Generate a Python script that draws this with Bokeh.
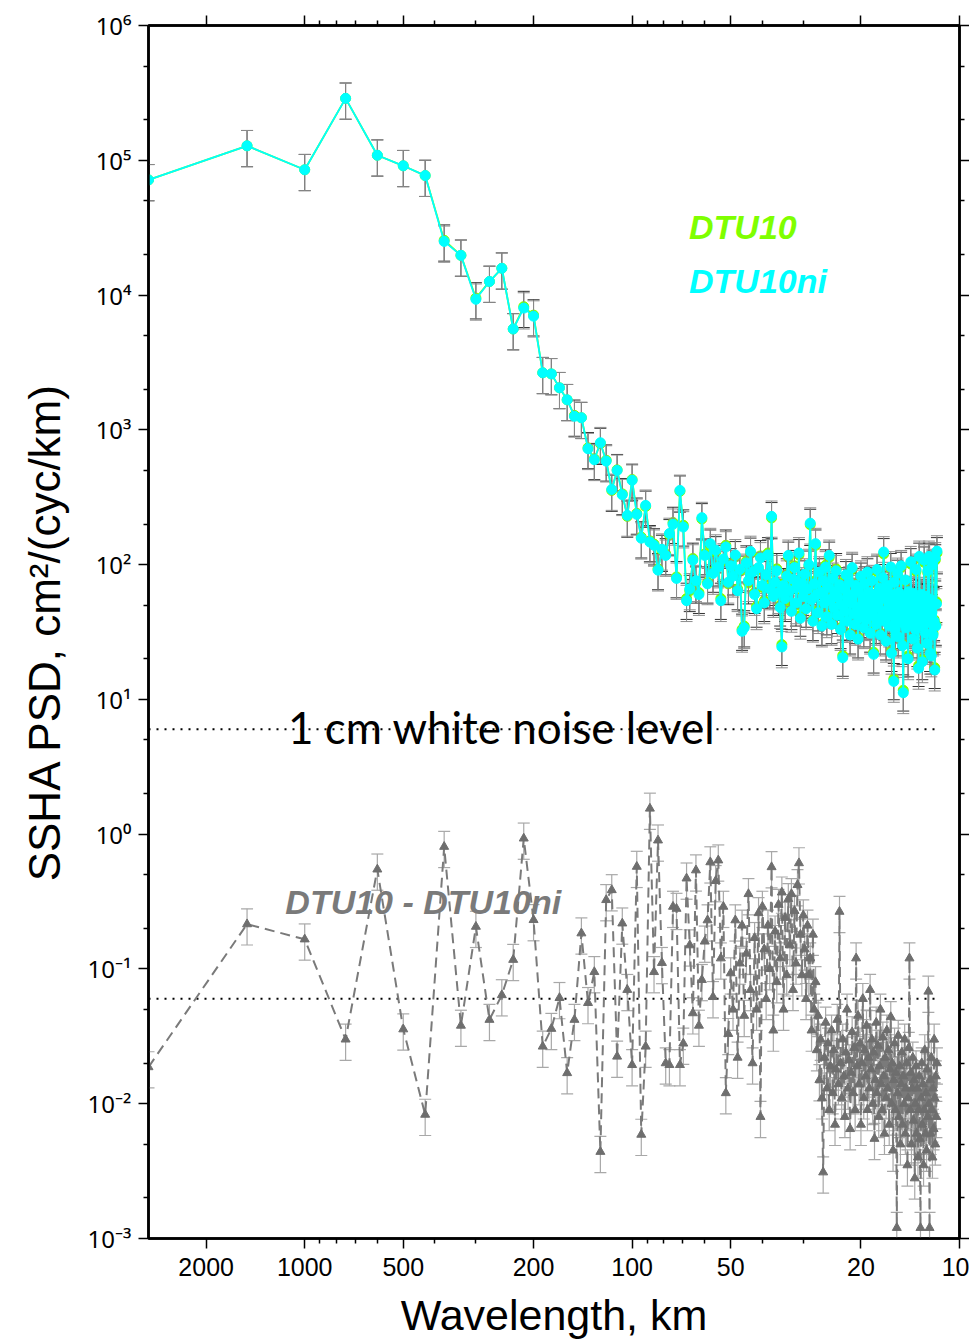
from bokeh.plotting import figure
from bokeh.models import FixedTicker, LogAxis, CustomJSTickFormatter, Range1d, Label, ColumnDataSource
from bokeh.embed import file_html
from bokeh.resources import INLINE

# ---------------- data ----------------
record_length_km = 3000.0
harmonic = list(range(1, 257))
wavelength_km = [record_length_km / k for k in harmonic]

psd_dtu10ni = [
    71500, 128000, 85000, 288000, 109000, 91000, 77000, 25000, 19700, 9300,
    12600, 15800, 5600, 8000, 6970, 2650, 2600, 2050, 1670, 1260,
    1230, 724, 600, 802, 586, 361, 500, 330, 232, 422,
    236, 157, 275, 147, 139, 91, 130, 117, 170, 199,
    79, 355, 190, 54, 66, 108, 76, 60, 223, 117,
    72, 143, 86, 128, 96, 54, 110, 135, 74, 98,
    82, 118, 64, 92, 32, 34, 103, 76, 125, 88,
    60, 47, 95, 112, 70, 52, 84, 118, 66, 228,
    58, 74, 90, 62, 48, 24.5, 70, 56, 82, 117,
    64, 45, 78, 95, 52, 68, 122, 40, 73, 58,
    85, 47, 66, 100, 203, 55, 38, 72, 143, 60,
    44, 88, 62, 35, 76, 52, 96, 41, 68, 117,
    55, 36, 79, 48, 63, 90, 42, 57, 71, 33,
    50, 20.4, 66, 45, 84, 38, 58, 74, 30, 52,
    95, 43, 61, 36, 70, 48, 28, 64, 40, 82,
    46, 58, 34, 72, 50, 39, 88, 44, 62, 31,
    55, 76, 42, 21.6, 60, 48, 36, 92, 53, 40,
    67, 30, 58, 45, 80, 124, 38, 56, 27, 64,
    42, 70, 35, 52, 96, 22, 60, 45, 13.6, 74,
    33, 55, 41, 86, 29, 62, 47, 37, 98, 44,
    25, 11.2, 58, 40, 77, 34, 52, 45, 20, 63,
    48, 36, 105, 42, 55, 28, 61, 39, 50, 33,
    92, 44, 24, 57, 17, 115, 46, 35, 60, 41,
    19, 53, 38, 108, 45, 31, 58, 40, 26, 90,
    37, 115, 48, 22, 55, 21, 44, 100, 30, 50,
    38, 16.5, 112, 35, 51, 126,
]

psd_dtu10 = [
    71500, 128000, 85000, 288000, 109000, 91000, 77000, 25500, 19700, 9500,
    12600, 15800, 5600, 8200, 7100, 2650, 2600, 2050, 1670, 1280,
    1230, 735, 610, 790, 595, 355, 505, 335, 228, 428,
    240, 160, 270, 150, 142, 93, 127, 120, 166, 205,
    81, 350, 196, 56, 64, 111, 74, 62, 218, 120,
    74, 139, 89, 124, 99, 56, 107, 139, 72, 101,
    85, 114, 66, 89, 33, 35, 106, 73, 121, 91,
    62, 49, 92, 116, 68, 54, 81, 122, 68, 222,
    60, 71, 93, 60, 50, 25.5, 72, 54, 85, 113,
    66, 47, 75, 98, 50, 70, 118, 42, 70, 60,
    82, 49, 68, 97, 198, 57, 39, 75, 139, 62,
    46, 85, 64, 36, 79, 50, 99, 43, 66, 113,
    57, 37, 76, 50, 61, 93, 44, 55, 73, 34,
    52, 21.2, 64, 47, 81, 39, 60, 71, 31, 54,
    92, 45, 59, 37, 72, 46, 29, 66, 41, 79,
    48, 56, 35, 74, 52, 40, 85, 46, 60, 32,
    57, 73, 44, 22.4, 58, 50, 37, 89, 55, 42,
    65, 31, 60, 47, 77, 120, 39, 58, 28, 62,
    44, 68, 36, 54, 93, 23, 58, 47, 14.2, 71,
    34, 57, 43, 83, 30, 60, 49, 38, 95, 46,
    26, 11.7, 56, 42, 74, 35, 54, 47, 21, 61,
    50, 37, 101, 44, 53, 29, 59, 41, 52, 34,
    89, 46, 25, 55, 17.8, 111, 48, 36, 58, 43,
    20, 55, 39, 104, 47, 32, 56, 42, 27, 87,
    38, 111, 50, 23, 53, 22, 46, 97, 31, 52,
    39, 17.2, 108, 36, 53, 122,
]

psd_diff = [
    0.0187, 0.215, 0.166, 0.030, 0.548, 0.0357, 0.0083, 0.807, 0.038, 0.206,
    0.042, 0.064, 0.117, 0.93, 0.231, 0.0266, 0.036, 0.061, 0.0169, 0.042,
    0.184, 0.056, 0.095, 0.0044, 0.325, 0.385, 0.0224, 0.218, 0.070, 0.0194,
    0.574, 0.0059, 0.0266, 1.55, 0.095, 0.90, 0.111, 0.020, 0.0194, 0.29,
    0.28, 0.0194, 0.028, 0.47, 0.15, 0.047, 0.54, 0.038, 0.083, 0.16,
    0.23, 0.62, 0.062, 0.45, 0.64, 0.12, 0.29, 0.012, 0.033, 0.093,
    0.05, 0.23, 0.022, 0.11, 0.21, 0.045, 0.13, 0.36, 0.07, 0.020,
    0.17, 0.05, 0.26, 0.008, 0.29, 0.14, 0.06, 0.21, 0.10, 0.57,
    0.035, 0.19, 0.08, 0.30, 0.12, 0.37, 0.05, 0.24, 0.09, 0.33,
    0.15, 0.36, 0.07, 0.27, 0.11, 0.42, 0.61, 0.18, 0.09, 0.25,
    0.14, 0.06, 0.21, 0.09, 0.12, 0.035, 0.18, 0.05, 0.08, 0.025,
    0.045, 0.015, 0.03, 0.011, 0.0031, 0.022, 0.04, 0.013, 0.028, 0.009,
    0.019, 0.035, 0.012, 0.025, 0.007, 0.018, 0.042, 0.014, 0.266, 0.02,
    0.011, 0.03, 0.016, 0.008, 0.024, 0.05, 0.013, 0.021, 0.0065, 0.017,
    0.034, 0.012, 0.026, 0.009, 0.12, 0.019, 0.045, 0.014, 0.028, 0.007,
    0.02, 0.06, 0.011, 0.025, 0.016, 0.038, 0.009, 0.022, 0.013, 0.07,
    0.018, 0.03, 0.01, 0.024, 0.0055, 0.015, 0.04, 0.012, 0.027, 0.008,
    0.019, 0.05, 0.014, 0.009, 0.031, 0.016, 0.006, 0.022, 0.011, 0.035,
    0.013, 0.025, 0.007, 0.018, 0.044, 0.01, 0.02, 0.0045, 0.015, 0.028,
    0.009, 0.017, 0.0012, 0.012, 0.032, 0.008, 0.019, 0.005, 0.014, 0.024,
    0.007, 0.016, 0.01, 0.03, 0.006, 0.013, 0.02, 0.0035, 0.011, 0.026,
    0.12, 0.009, 0.017, 0.005, 0.013, 0.022, 0.0075, 0.015, 0.0028, 0.01,
    0.019, 0.006, 0.013, 0.004, 0.009, 0.016, 0.0055, 0.0012, 0.011, 0.02,
    0.007, 0.014, 0.0035, 0.009, 0.025, 0.006, 0.012, 0.0045, 0.018, 0.008,
    0.068, 0.01, 0.0012, 0.015, 0.006, 0.022, 0.009, 0.004, 0.013, 0.0065,
    0.03, 0.011, 0.005, 0.016, 0.008, 0.02,
]

relative_error = 0.30          # half-width of the error bars, fraction of value
noise_levels = [6.0, 0.06]     # 1 cm white noise level (spectra / difference)

x_major_ticks = [2000, 1000, 500, 200, 100, 50, 20, 10]
x_minor_ticks = [900, 800, 700, 600, 400, 300, 90, 80, 70, 60, 40, 30]
y_major_ticks = [1e-3, 1e-2, 1e-1, 1e0, 1e1, 1e2, 1e3, 1e4, 1e5, 1e6]
y_minor_ticks = [m * 10.0 ** e for e in range(-3, 6) for m in (2, 5)]

assert len(psd_dtu10ni) == len(harmonic)
assert len(psd_dtu10) == len(harmonic)
assert len(psd_diff) == len(harmonic)

# ---------------- figure ----------------
p = figure(frame_width=811, frame_height=1213,
           x_axis_type="log", y_axis_type="log",
           x_range=Range1d(3000, 10), y_range=Range1d(1e-3, 1e6),
           output_backend="svg", toolbar_location=None,
           min_border_left=148, min_border_right=10,
           min_border_top=25, min_border_bottom=106)
p.xgrid.visible = False
p.ygrid.visible = False
p.outline_line_color = "black"
p.outline_line_width = 2.5
p.background_fill_color = "white"
p.border_fill_color = "white"

xticker = FixedTicker(ticks=x_major_ticks, minor_ticks=x_minor_ticks)
yticker = FixedTicker(ticks=y_major_ticks, minor_ticks=y_minor_ticks)

sup_fmt = CustomJSTickFormatter(code="""
const sup = {"-":"\u207B","0":"\u2070","1":"\u00B9","2":"\u00B2","3":"\u00B3","4":"\u2074",
             "5":"\u2075","6":"\u2076","7":"\u2077","8":"\u2078","9":"\u2079"};
const e = Math.round(Math.log10(tick));
return "10" + String(e).split("").map(c => sup[c]).join("");
""")
int_fmt = CustomJSTickFormatter(code="return String(Math.round(tick));")
blank_fmt = CustomJSTickFormatter(code="return '';")

def style_axis(ax):
    ax.axis_line_width = 2.5
    ax.axis_line_color = "black"
    ax.major_tick_out = 10
    ax.major_tick_in = 0
    ax.minor_tick_out = 5
    ax.minor_tick_in = 0
    ax.major_tick_line_width = 1.5
    ax.minor_tick_line_width = 1.5
    ax.major_label_text_font = "Liberation Sans"
    ax.major_label_text_color = "black"
    ax.axis_label_text_font = "Liberation Sans"
    ax.axis_label_text_font_style = "normal"
    ax.axis_label_text_color = "black"

xa = p.xaxis[0]
xa.ticker = xticker
xa.formatter = int_fmt
style_axis(xa)
xa.major_label_text_font_size = "25px"
xa.major_label_standoff = 9
xa.axis_label = "Wavelength, km"
xa.axis_label_text_font_size = "43px"
xa.axis_label_standoff = 12

ya = p.yaxis[0]
ya.ticker = yticker
ya.formatter = sup_fmt
style_axis(ya)
ya.major_label_text_font = "Noto Sans"
ya.major_label_text_font_size = "24px"
ya.major_label_standoff = 7
ya.axis_label = "SSHA PSD, cm\u00B2/(cyc/km)"
ya.axis_label_text_font_size = "44px"
ya.axis_label_standoff = 16

top = LogAxis(ticker=xticker, formatter=blank_fmt)
style_axis(top)
top.major_label_text_font_size = "1px"
p.add_layout(top, "above")

right = LogAxis(ticker=yticker, formatter=blank_fmt)
style_axis(right)
right.major_label_text_font_size = "1px"
p.add_layout(right, "right")

# ---------------- sources ----------------
def make_source(vals):
    return ColumnDataSource(dict(
        x=wavelength_km, y=vals,
        lo=[v * (1 - relative_error) for v in vals],
        hi=[v * (1 + relative_error) for v in vals],
    ))

src_diff = make_source(psd_diff)
src_dtu10 = make_source(psd_dtu10)
src_ni = make_source(psd_dtu10ni)

def error_bars(src, color, width):
    p.segment(x0="x", y0="lo", x1="x", y1="hi", source=src, line_color=color, line_width=width)
    p.scatter(x="x", y="hi", source=src, marker="dash", size=12, line_color=color, line_width=width)
    p.scatter(x="x", y="lo", source=src, marker="dash", size=12, line_color=color, line_width=width)

# noise level lines
for lvl in noise_levels:
    p.segment(x0=wavelength_km[0], x1=wavelength_km[-1], y0=lvl, y1=lvl,
              line_color="black", line_width=2, line_dash="2 6")

# difference spectrum
error_bars(src_diff, "#a8a8a8", 1.2)
p.line(x="x", y="y", source=src_diff, line_color="#7a7a7a", line_width=2, line_dash="10 6")
p.scatter(x="x", y="y", source=src_diff, marker="triangle", size=9,
          fill_color="#6e6e6e", line_color="#6e6e6e")

# DTU10
error_bars(src_dtu10, "#333333", 1.0)
p.line(x="x", y="y", source=src_dtu10, line_color="#7FFF00", line_width=1.8)
p.scatter(x="x", y="y", source=src_dtu10, marker="circle", size=10,
          fill_color="#7FFF00", line_color="#7FFF00")

# DTU10ni
error_bars(src_ni, "#8c8c8c", 1.0)
p.line(x="x", y="y", source=src_ni, line_color="#00FFFF", line_width=1.8)
p.scatter(x="x", y="y", source=src_ni, marker="circle", size=10,
          fill_color="#00FFFF", line_color="#00FFFF")

# ---------------- annotations ----------------
p.add_layout(Label(x=250, y=noise_levels[0], text="1 cm white noise level",
                   text_font="Lato", text_font_size="44px", text_color="black",
                   text_align="center", text_baseline="middle", y_offset=2))
p.add_layout(Label(x=67, y=3.2e4, text="DTU10", text_font="Liberation Sans",
                   text_font_size="34px", text_font_style="bold italic",
                   text_color="#7FFF00", text_baseline="alphabetic"))
p.add_layout(Label(x=67, y=1.27e4, text="DTU10ni", text_font="Liberation Sans",
                   text_font_size="34px", text_font_style="bold italic",
                   text_color="#00FFFF", text_baseline="alphabetic"))
p.add_layout(Label(x=1146, y=0.315, text="DTU10 - DTU10ni", text_font="Liberation Sans",
                   text_font_size="34px", text_font_style="bold italic",
                   text_color="#7a7a7a", text_baseline="alphabetic"))

open("out.html", "w").write(file_html(p, INLINE))
